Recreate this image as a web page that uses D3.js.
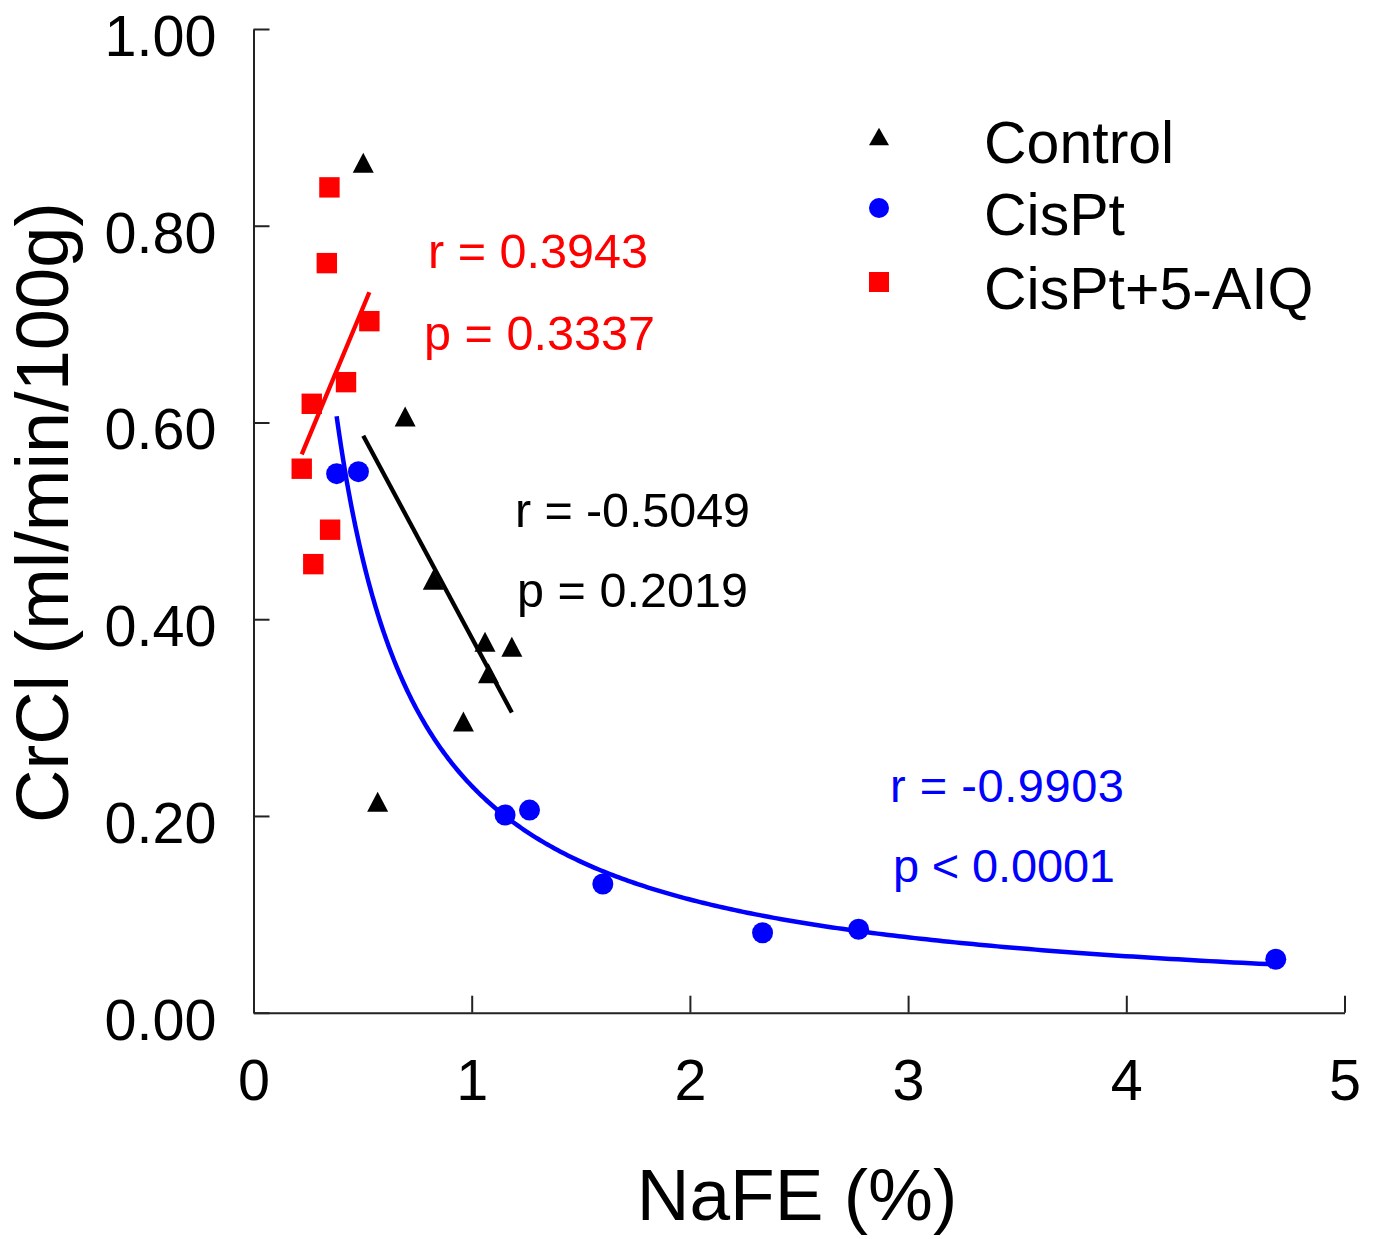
<!DOCTYPE html>
<html>
<head>
<meta charset="utf-8">
<script src="https://cdn.jsdelivr.net/npm/d3@7"></script>
<style>
  html, body { margin: 0; padding: 0; background: #fff; }
  svg { display: block; font-family: "Liberation Sans", Arial, sans-serif; }
</style>
</head>
<body>
<svg id="chart" width="1373" height="1239"></svg>
<script>
// NaFE (%) vs creatinine clearance, three groups
const controlX = [0.503, 0.695, 0.824, 1.061, 1.184, 1.077, 0.962, 0.569];
const controlY = [0.864, 0.606, 0.440, 0.377, 0.372, 0.345, 0.296, 0.2145];

const cisptX = [0.381, 0.481, 1.153, 1.265, 1.601, 2.333, 2.773, 4.685];
const cisptY = [0.548, 0.550, 0.201, 0.206, 0.1308, 0.0813, 0.0848, 0.0543];

const aiqX = [0.348, 0.336, 0.531, 0.424, 0.267, 0.221, 0.351, 0.274];
const aiqY = [0.839, 0.762, 0.703, 0.641, 0.619, 0.553, 0.491, 0.456];

const xTicks = [0, 1, 2, 3, 4, 5];
const yTicks = [0, 0.2, 0.4, 0.6, 0.8, 1.0];

const seriesNames = ["Control", "CisPt", "CisPt+5-AIQ"];
const seriesColors = ["#000000", "#0000ff", "#ff0000"];

const statControl = ["r = -0.5049", "p = 0.2019"];
const statCispt = ["r = -0.9903", "p < 0.0001"];
const statAiq = ["r = 0.3943", "p = 0.3337"];

const svg = d3.select("#chart");

const x = d3.scaleLinear().domain([0, 5]).range([253.5, 1344.5]);
const y = d3.scaleLinear().domain([0, 1]).range([1012.7, 29]);

// axes with inward ticks
const yAxis = d3.axisLeft(y).tickValues(yTicks).tickFormat(d3.format(".2f"))
  .tickSizeInner(-16).tickSizeOuter(0).tickPadding(37);
const xAxis = d3.axisBottom(x).tickValues(xTicks).tickFormat(d3.format("d"))
  .tickSizeInner(-17).tickSizeOuter(0).tickPadding(46);

const gy = svg.append("g").attr("transform", `translate(${x(0)},0)`).call(yAxis);
const gx = svg.append("g").attr("transform", `translate(0,${y(0)})`).call(xAxis);

[gx, gy].forEach(g => {
  g.select(".domain").attr("stroke", "#222").attr("stroke-width", 2);
  g.selectAll(".tick line").attr("stroke", "#222").attr("stroke-width", 2);
  g.selectAll(".tick text")
    .attr("fill", "#000")
    .style("font-family", "'Liberation Sans', Arial, sans-serif")
    .style("font-size", "57.5px");
});
gy.selectAll(".tick text").attr("dy", 26.5);

// axis titles
svg.append("text")
  .attr("x", 797).attr("y", 1220)
  .attr("text-anchor", "middle")
  .style("font-size", "73px")
  .text("NaFE (%)");

svg.append("text")
  .attr("transform", "translate(68,512.5) rotate(-90)")
  .attr("text-anchor", "middle")
  .style("font-size", "74px")
  .text("CrCl (ml/min/100g)");

// fits
function linearFit(xs, ys) {
  const mx = d3.mean(xs), my = d3.mean(ys);
  let sxy = 0, sxx = 0;
  xs.forEach((v, i) => { sxy += (v - mx) * (ys[i] - my); sxx += (v - mx) * (v - mx); });
  const b = sxy / sxx;
  return v => my + b * (v - mx);
}
function powerFit(xs, ys) {
  const lx = xs.map(Math.log), ly = ys.map(Math.log);
  const f = linearFit(lx, ly);
  return v => Math.exp(f(Math.log(v)));
}

const line = d3.line().x(d => x(d[0])).y(d => y(d[1]));

function drawLinear(xs, ys, color) {
  const f = linearFit(xs, ys);
  const [lo, hi] = d3.extent(xs);
  svg.append("path")
    .attr("d", line([[lo, f(lo)], [hi, f(hi)]]))
    .attr("fill", "none").attr("stroke", color).attr("stroke-width", 4.3);
}

function drawPower(xs, ys, color) {
  const f = powerFit(xs, ys);
  const [lo, hi] = d3.extent(xs);
  const n = 300;
  const pts = d3.range(n + 1).map(i => {
    const v = lo * Math.pow(hi / lo, i / n);
    return [v, f(v)];
  });
  svg.append("path")
    .attr("d", line(pts))
    .attr("fill", "none").attr("stroke", color).attr("stroke-width", 4.5);
}

// markers
const triPath = "M0,-10L10.5,10L-10.5,10Z";
function drawTriangles(g, xs, ys, color) {
  g.selectAll(null).data(d3.zip(xs, ys)).join("path")
    .attr("d", triPath)
    .attr("transform", d => `translate(${x(d[0])},${y(d[1])})`)
    .attr("fill", color);
}
function drawCircles(g, xs, ys, color) {
  g.selectAll(null).data(d3.zip(xs, ys)).join("circle")
    .attr("cx", d => x(d[0])).attr("cy", d => y(d[1]))
    .attr("r", 10.5).attr("fill", color);
}
function drawSquares(g, xs, ys, color) {
  g.selectAll(null).data(d3.zip(xs, ys)).join("rect")
    .attr("x", d => x(d[0]) - 10.2).attr("y", d => y(d[1]) - 10.2)
    .attr("width", 20.4).attr("height", 20.4).attr("fill", color);
}

const marks = svg.append("g");
drawSquares(marks, aiqX, aiqY, seriesColors[2]);
drawCircles(marks, cisptX, cisptY, seriesColors[1]);
drawTriangles(marks, controlX, controlY, seriesColors[0]);

drawLinear(aiqX, aiqY, seriesColors[2]);
drawLinear(controlX, controlY, seriesColors[0]);
drawPower(cisptX, cisptY, seriesColors[1]);

// statistics labels
function statText(lines, xs, ys, color, size, lengths) {
  lines.forEach((t, i) => {
    const el = svg.append("text")
      .attr("x", xs[i]).attr("y", ys[i])
      .attr("fill", color)
      .style("font-size", size + "px")
      .text(t);
    if (lengths) el.attr("textLength", lengths[i]).attr("lengthAdjust", "spacing");
  });
}
statText(statAiq, [428, 424], [267.5, 349.5], seriesColors[2], 48.5, [220, 231]);
statText(statControl, [515, 517], [527, 607], seriesColors[0], 48.5, [235, 231]);
statText(statCispt, [890, 893], [802, 882], seriesColors[1], 47, [234, 222]);

// legend
const legend = svg.append("g");
const legendY = [136.7, 208, 282];
const legendMarkX = 879;
legend.append("path").attr("d", "M0,-9L10,8.5L-10,8.5Z")
  .attr("transform", `translate(${legendMarkX},${legendY[0]})`).attr("fill", seriesColors[0]);
legend.append("circle").attr("cx", legendMarkX).attr("cy", legendY[1]).attr("r", 10).attr("fill", seriesColors[1]);
legend.append("rect").attr("x", legendMarkX - 10).attr("y", legendY[2] - 10)
  .attr("width", 20).attr("height", 20).attr("fill", seriesColors[2]);
seriesNames.forEach((name, i) => {
  legend.append("text")
    .attr("x", 984).attr("y", legendY[i] + 26.5)
    .style("font-size", "59px")
    .text(name);
});
</script>
</body>
</html>
